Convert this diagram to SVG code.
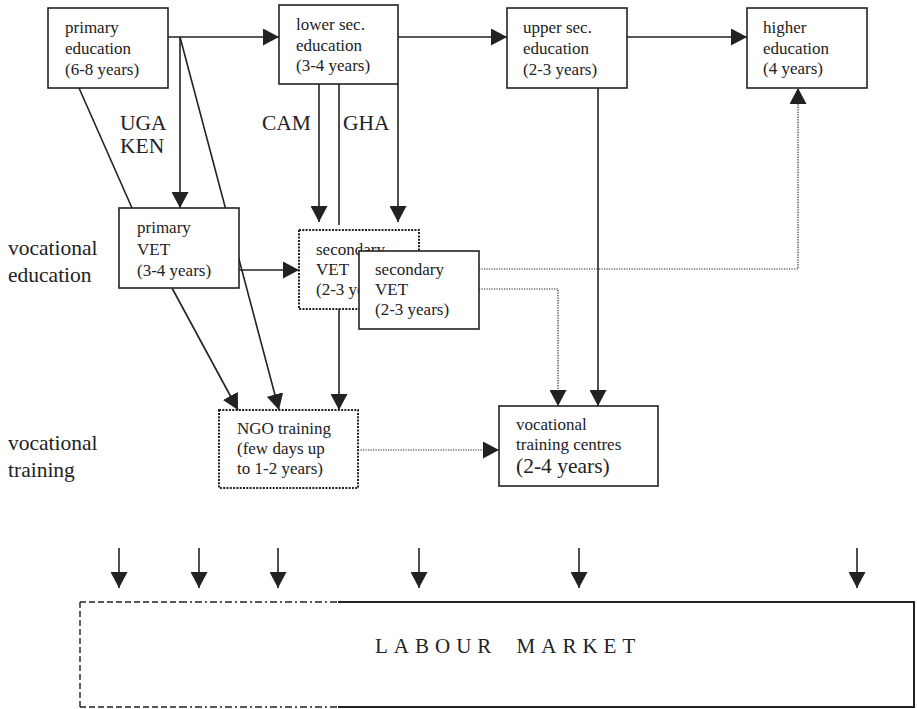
<svg xmlns="http://www.w3.org/2000/svg" width="917" height="709" viewBox="0 0 917 709">
<style>
text{font-family:"Liberation Serif","Times New Roman",serif;fill:#222}
.t{font-size:17px}
.lbl{font-size:21.5px}
.box{fill:#fff;stroke:#222;stroke-width:1.6}
.dbox{fill:#fff;stroke:#222;stroke-width:2;stroke-dasharray:2 1.3}
.ln{fill:none;stroke:#222;stroke-width:1.6}
.dot{fill:none;stroke:#222;stroke-width:1.2;stroke-dasharray:1.2 1.3}
</style>
<defs>
<marker id="ah" markerUnits="userSpaceOnUse" markerWidth="16" markerHeight="17" refX="16" refY="8.5" orient="auto">
<path d="M0,0 L16,8.5 L0,17 Z" fill="#222"/>
</marker>
<clipPath id="cl-sv">
<path d="M299,230 H419 V251 H359 V309 H299 Z"/>
</clipPath>
</defs>
<g id="labels">
<text class="lbl" x="120" y="130">UGA</text>
<text class="lbl" x="120" y="153">KEN</text>
<text class="lbl" x="262" y="130">CAM</text>
<text class="lbl" x="343" y="130">GHA</text>
<text class="lbl" x="8" y="255">vocational</text>
<text class="lbl" x="8" y="282">education</text>
<text class="lbl" x="8" y="450">vocational</text>
<text class="lbl" x="8" y="477">training</text>
</g>
<g id="connectors">
<line class="ln" x1="168" y1="37" x2="279" y2="37" marker-end="url(#ah)"/>
<line class="ln" x1="398" y1="37" x2="507" y2="37" marker-end="url(#ah)"/>
<line class="ln" x1="627" y1="37" x2="747" y2="37" marker-end="url(#ah)"/>
<line class="ln" x1="180" y1="37" x2="180" y2="208" marker-end="url(#ah)"/>
<line class="ln" x1="180" y1="37" x2="279" y2="410" marker-end="url(#ah)"/>
<line class="ln" x1="79" y1="88" x2="132" y2="208"/>
<line class="ln" x1="319" y1="84" x2="319" y2="222" marker-end="url(#ah)"/>
<line class="ln" x1="339" y1="84" x2="339" y2="225"/>
<line class="ln" x1="398" y1="84" x2="398" y2="222" marker-end="url(#ah)"/>
<line class="ln" x1="239" y1="270" x2="299" y2="270" marker-end="url(#ah)"/>
<line class="ln" x1="172" y1="288" x2="238" y2="410" marker-end="url(#ah)"/>
<line class="ln" x1="339" y1="309" x2="339" y2="410" marker-end="url(#ah)"/>
<line class="ln" x1="598" y1="88" x2="598" y2="406" marker-end="url(#ah)"/>
<polyline class="dot" points="479,269 798,269 798,88" marker-end="url(#ah)"/>
<polyline class="dot" points="479,289 558,289 558,406" marker-end="url(#ah)"/>
<line class="dot" x1="358" y1="450" x2="499" y2="450" marker-end="url(#ah)"/>
<line class="ln" x1="119" y1="548" x2="119" y2="588" marker-end="url(#ah)"/>
<line class="ln" x1="199" y1="548" x2="199" y2="588" marker-end="url(#ah)"/>
<line class="ln" x1="278" y1="548" x2="278" y2="588" marker-end="url(#ah)"/>
<line class="ln" x1="419" y1="548" x2="419" y2="588" marker-end="url(#ah)"/>
<line class="ln" x1="579" y1="548" x2="579" y2="588" marker-end="url(#ah)"/>
<line class="ln" x1="857" y1="548" x2="857" y2="588" marker-end="url(#ah)"/>
</g>
<g id="primary-education">
<rect class="box" x="48" y="8" width="120" height="80"/>
<text class="t" x="65" y="33">primary</text>
<text class="t" x="65" y="54">education</text>
<text class="t" x="65" y="75">(6-8 years)</text>
</g>
<g id="lower-sec-education">
<rect class="box" x="279" y="5" width="119" height="79"/>
<text class="t" x="296" y="30">lower sec.</text>
<text class="t" x="296" y="51">education</text>
<text class="t" x="296" y="71">(3-4 years)</text>
</g>
<g id="upper-sec-education">
<rect class="box" x="507" y="8" width="120" height="80"/>
<text class="t" x="523" y="33">upper sec.</text>
<text class="t" x="523" y="54">education</text>
<text class="t" x="523" y="75">(2-3 years)</text>
</g>
<g id="higher-education">
<rect class="box" x="747" y="8" width="120" height="80"/>
<text class="t" x="763" y="33">higher</text>
<text class="t" x="763" y="54">education</text>
<text class="t" x="763" y="74">(4 years)</text>
</g>
<g id="primary-vet">
<rect class="box" x="119" y="208" width="120" height="80"/>
<text class="t" x="137" y="233">primary</text>
<text class="t" x="137" y="255">VET</text>
<text class="t" x="137" y="276">(3-4 years)</text>
</g>
<g id="secondary-vet-dotted">
<rect class="dbox" x="299" y="230" width="120" height="79"/>
<g clip-path="url(#cl-sv)">
<text class="t" x="316" y="255">secondary</text>
<text class="t" x="316" y="275">VET</text>
<text class="t" x="316" y="295">(2-3 years)</text>
</g>
</g>
<g id="secondary-vet">
<rect class="box" x="359" y="251" width="120" height="78"/>
<text class="t" x="375" y="275">secondary</text>
<text class="t" x="375" y="295">VET</text>
<text class="t" x="375" y="315">(2-3 years)</text>
</g>
<g id="ngo-training">
<rect class="dbox" x="219" y="410" width="139" height="78"/>
<text class="t" x="237" y="434">NGO training</text>
<text class="t" x="237" y="454">(few days up</text>
<text class="t" x="237" y="474">to 1-2 years)</text>
</g>
<g id="vocational-training-centres">
<rect class="box" x="499" y="406" width="159" height="80"/>
<text class="t" x="516" y="430">vocational</text>
<text class="t" x="516" y="450">training centres</text>
<text x="516" y="473" style="font-size:21.5px">(2-4 years)</text>
</g>
<g id="labour-market">
<rect x="80" y="602" width="834" height="105" fill="#fff"/>
<path d="M80,602 V707" fill="none" stroke="#222" stroke-width="1.4" stroke-dasharray="6 3"/>
<path d="M80,602 H180 M80,707 H180" fill="none" stroke="#222" stroke-width="1.4" stroke-dasharray="6 3"/>
<path d="M180,602 H338 M180,707 H338" fill="none" stroke="#222" stroke-width="1.4" stroke-dasharray="7 3 2 3"/>
<path d="M338,602 H914 V707 H338" fill="none" stroke="#222" stroke-width="2"/>
<text x="375" y="653" style="font-size:21px;letter-spacing:6px;word-spacing:8px">LABOUR MARKET</text>
</g>
</svg>
